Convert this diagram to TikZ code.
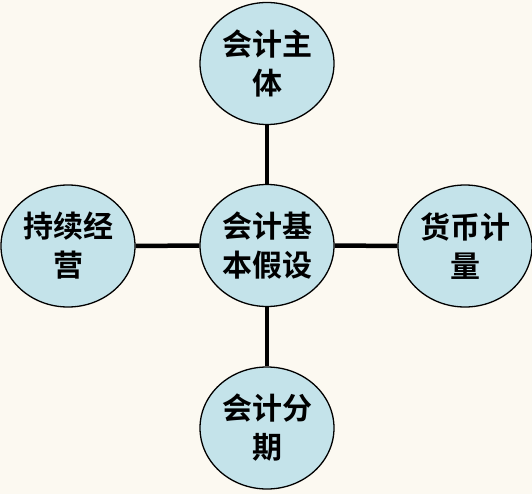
\documentclass[tikz,border=0pt]{standalone}
\usepackage{fontspec}
\usetikzlibrary{shapes.geometric}
\newfontfamily\cjk{Noto Sans CJK SC}[BoldFont={Noto Sans CJK SC Bold}]
\definecolor{bgcream}{HTML}{FCF9F1}
\definecolor{bubble}{HTML}{C4E3EA}
\begin{document}
\begin{tikzpicture}[x=1pt,y=-1pt,
  bubblenode/.style={ellipse, draw=black, line width=1.3pt, fill=bubble,
     minimum width=134pt, minimum height=122pt, inner sep=0pt,
     font=\cjk\bfseries\fontsize{30}{39}\selectfont, align=center},
  link/.style={line width=4.5pt, draw=black}]
\fill[bgcream] (0,0) rectangle (532,494);
\useasboundingbox (0,0) rectangle (532,494);
\node[bubblenode] (c) at (267,245.5) {会计基\\本假设};
\node[bubblenode] (t) at (267,63.5) {会计主\\体};
\node[bubblenode] (b) at (267,428) {会计分\\期};
\node[bubblenode] (l) at (68,246) {持续经\\营};
\node[bubblenode] (r) at (465,246) {货币计\\量};
\draw[link] (c.north) -- (t.south);
\draw[link] (c.south) -- (b.north);
\draw[link] (c.west) -- (l.east);
\draw[link] (c.east) -- (r.west);
\end{tikzpicture}
\end{document}
